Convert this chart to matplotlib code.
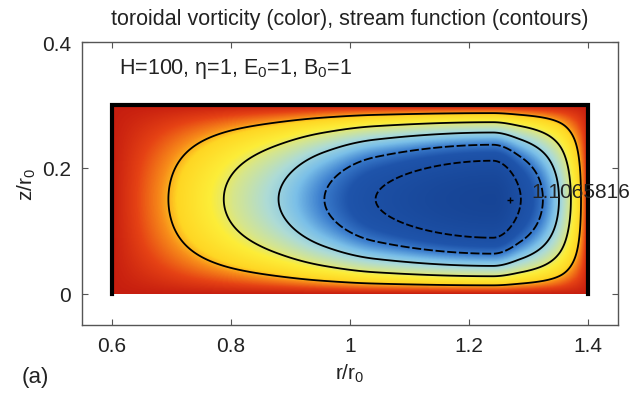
import numpy as np
import matplotlib
matplotlib.use("Agg")
import matplotlib.pyplot as plt
from matplotlib.colors import LinearSegmentedColormap

plt.rcParams['font.family'] = ['Liberation Sans', 'DejaVu Sans']
plt.rcParams['mathtext.fontset'] = 'custom'
plt.rcParams['mathtext.rm'] = 'Liberation Sans'
plt.rcParams['mathtext.it'] = 'Liberation Sans:italic'

# ---- data ----
# radial positions where the stream function crosses each contour level (mid-height)
r_cross = [0.6, 0.695, 0.788, 0.88, 0.957, 1.043, 1.24, 1.287, 1.324, 1.351, 1.371, 1.388, 1.4]
psi_cross = [0, 1, 2, 3, 4, 5, 6, 5, 4, 3, 2, 1, 0]
contour_levels = [1, 2, 3, 4, 5]
contour_styles = ['solid', 'solid', 'solid', (0, (5, 1.5)), (0, (4, 1.5))]
z_bottom, z_top = 0.0, 0.3
r_left, r_right = 0.6, 1.4
peak_r, peak_z = 1.268, 0.148
peak_label = "1.1065816"
xticks = [0.6, 0.8, 1.0, 1.2, 1.4]
xticklabels = ['0.6', '0.8', '1', '1.2', '1.4']
yticks = [0, 0.2, 0.4]
yticklabels = ['0', '0.2', '0.4']
title = "toroidal vorticity (color), stream function (contours)"
params_text = "H=100, \u03b7=1, E$_0$=1, B$_0$=1"

cmap_colors = [
    (0.00, (0.78, 0.12, 0.06)),
    (0.07, (0.90, 0.26, 0.08)),
    (0.14, (0.97, 0.55, 0.10)),
    (0.19, (1.00, 0.84, 0.14)),
    (0.29, (0.99, 0.93, 0.22)),
    (0.36, (0.84, 0.90, 0.55)),
    (0.46, (0.68, 0.86, 0.84)),
    (0.56, (0.48, 0.75, 0.91)),
    (0.65, (0.24, 0.50, 0.81)),
    (0.75, (0.12, 0.33, 0.67)),
    (1.00, (0.09, 0.27, 0.59)),
]


def pchip(xk, yk, x):
    xk = np.asarray(xk, float); yk = np.asarray(yk, float)
    h = np.diff(xk); delta = np.diff(yk) / h
    n = len(xk); d = np.zeros(n)
    for i in range(1, n - 1):
        if delta[i - 1] * delta[i] <= 0:
            d[i] = 0.0
        else:
            w1 = 2 * h[i] + h[i - 1]; w2 = h[i] + 2 * h[i - 1]
            d[i] = (w1 + w2) / (w1 / delta[i - 1] + w2 / delta[i])
    d[0] = delta[0]; d[-1] = delta[-1]
    i = np.clip(np.searchsorted(xk, x) - 1, 0, n - 2)
    t = (x - xk[i]) / h[i]
    h00 = 2 * t**3 - 3 * t**2 + 1; h10 = t**3 - 2 * t**2 + t
    h01 = -2 * t**3 + 3 * t**2; h11 = t**3 - t**2
    return h00 * yk[i] + h10 * h[i] * d[i] + h01 * yk[i + 1] + h11 * h[i] * d[i + 1]


r = np.linspace(r_left, r_right, 600)
z = np.linspace(z_bottom, z_top, 300)
R, Z = np.meshgrid(r, z)
F = pchip(r_cross, psi_cross, r)
G = 4 * (z - z_bottom) * (z_top - z) / (z_top - z_bottom) ** 2
PSI = np.outer(G, F)
psimax = max(psi_cross)

cmap = LinearSegmentedColormap.from_list("vort", cmap_colors)

fig = plt.figure(figsize=(6.41, 4.14), dpi=100)
ax = fig.add_axes([0.128, 0.2126, 0.836, 0.6835])

ax.imshow(PSI / psimax, extent=[r_left, r_right, z_bottom, z_top], origin='lower',
          cmap=cmap, vmin=0, vmax=1, aspect='auto', interpolation='bilinear', zorder=1)
ax.contour(R, Z, PSI, levels=contour_levels, colors='k', linewidths=1.3,
           linestyles=contour_styles, zorder=2)
ax.plot([r_left, r_left, r_right, r_right], [z_bottom, z_top, z_top, z_bottom],
        color='k', lw=3, solid_joinstyle='miter', zorder=3)
ax.plot([peak_r], [peak_z], marker='+', color='k', ms=5, mew=1, zorder=4)
ax.text(1.305, 0.163, peak_label, fontsize=15, color='#222222', va='center', ha='left',
        clip_on=False, zorder=5)
ax.text(0.612, 0.35, params_text, fontsize=15.5, color='#222222', va='baseline', ha='left')

ax.set_xlim(0.55, 1.45)
ax.set_ylim(-0.05, 0.4)
ax.set_xticks(xticks)
ax.set_xticklabels(xticklabels)
ax.set_yticks(yticks)
ax.set_yticklabels(yticklabels)
ax.tick_params(direction='in', top=True, right=True, length=4, width=0.8,
               labelsize=15, colors='#555555', labelcolor='#222222', pad=8)
for s in ax.spines.values():
    s.set_color('#555555'); s.set_linewidth(1.0)

ax.set_title(title, fontsize=15.5, color='#222222', pad=13)
ax.set_xlabel(r"r/r$_0$", fontsize=15, color='#222222', labelpad=5)
ax.set_ylabel(r"z/r$_0$", fontsize=15, color='#222222', labelpad=3)
fig.text(0.034, 0.075, "(a)", fontsize=16, color='#222222')

fig.savefig("out.png", dpi=100)
